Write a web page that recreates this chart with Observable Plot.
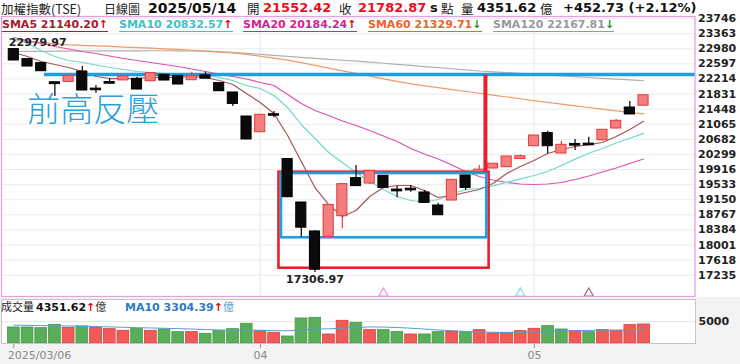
<!DOCTYPE html>
<html><head><meta charset="utf-8">
<script src="https://cdn.jsdelivr.net/npm/d3@7"></script>
<script src="https://cdn.jsdelivr.net/npm/@observablehq/plot@0.6"></script>
<style>
body{margin:0;background:#fff;}
#wrap{position:relative;width:740px;height:364px;overflow:hidden;font-family:"DejaVu Sans",sans-serif;background:#fff;}
.abs{position:absolute;white-space:nowrap;}
</style></head>
<body><div id="wrap"></div>
<script>
// ---------------- data ----------------
const dates = ["2025-03-06","2025-03-07","2025-03-10","2025-03-11","2025-03-12","2025-03-13","2025-03-14","2025-03-17","2025-03-18","2025-03-19","2025-03-20","2025-03-21","2025-03-24","2025-03-25","2025-03-26","2025-03-27","2025-03-28","2025-03-31","2025-04-01","2025-04-02","2025-04-07","2025-04-08","2025-04-09","2025-04-10","2025-04-11","2025-04-14","2025-04-15","2025-04-16","2025-04-17","2025-04-18","2025-04-21","2025-04-22","2025-04-23","2025-04-24","2025-04-25","2025-04-28","2025-04-29","2025-04-30","2025-05-02","2025-05-05","2025-05-06","2025-05-07","2025-05-08","2025-05-09","2025-05-12","2025-05-13","2025-05-14"];
const open  = [22952,22699,22597,22112,22156,22384,21950,22118,22195,22199,22174,22301,22275,22199,22288,22090,21852,21243,20880,21300,20163,19062,18327,18225,18750,19681,19579,19739,19390,19412,19316,18986,19148,19747,19870,19960,19993,20200,20525,20822,20340,20548,20555,20677,20974,21471,21552.42];
const high  = [22979.97,22732,22638,22120,22290,22529,22047,22217,22280,22257,22360,22320,22290,22384,22384,22110,21870,21260,21311,21388,20180,19080,18370,19020,19545,20018,19880,19755,19485,19511,19384,19062,19650,19760,20018,20055,20240,20287,20775,20888,20627,20677,20736,20920,21185,21641,21790];
const low   = [22680,22529,22402,21768,22140,21925,21852,22090,22185,21938,22160,22180,22075,22190,22225,21895,21514,20670,20860,21230,19200,18200,17306.97,18210,18413,19500,19536,19455,19199,19340,19075,18760,19135,19384,19860,19950,19980,20190,20510,20315,20325,20398,20540,20634,20960,21310,21545];
const close = [22699,22546,22427,22100,22275,21938,21945,22110,22264,21963,22344,22191,22090,22264,22237,21920,21598,20696,21286,21298,19232,18459,17392,19001,19528,19513,19866,19468,19380,19405,19088,18775,19637,19468,19895,20045,20229,20235,20761,20525,20525,20540,20548,20906,21134,21330,21782.87];

const sma5   = [22884,22782,22656,22579,22503,22402,22275,22224,22224,22224,22250,22250,22250,22275,22250,22174,22072,21844,21616,21337,20779,20120,19460,19029,18725,18877,19232,19460,19511,19511,19384,19207,19257,19333,19409,19562,19815,19993,20145,20322,20424,20500,20550,20601,20753,20931,21140.20];
const sma10  = [23239,23112,22934,22782,22681,22630,22567,22503,22453,22402,22377,22351,22338,22326,22300,22250,22174,22047,21971,21793,21489,21058,20703,20348,20094,19841,19612,19409,19232,19131,19093,19156,19295,19409,19435,19500,19590,19680,19764,19866,20020,20180,20330,20449,20590,20710,20832.57];
const sma20  = [23264,23188,23112,23036,22973,22909,22858,22795,22732,22681,22630,22579,22529,22465,22402,22338,22275,22212,22123,22047,21819,21590,21413,21286,21146,21032,20906,20766,20627,20449,20309,20183,20030,19866,19739,19650,19587,19549,19536,19549,19587,19663,19752,19853,19954,20069,20184.24];
const sma60  = [23188,23160,23132,23105,23078,23066,23052,23037,23022,23008,22993,22978,22963,22941,22918,22895,22872,22837,22789,22741,22692,22625,22559,22488,22417,22353,22285,22216,22152,22088,22038,21993,21944,21895,21850,21803,21755,21711,21664,21617,21575,21532,21489,21449,21406,21364,21329.71];
const sma120 = [22910,22912,22915,22918,22920,22922,22924,22925,22926,22927,22928,22928,22927,22925,22920,22905,22885,22860,22835,22810,22785,22760,22736,22712,22688,22664,22640,22612,22584,22556,22528,22500,22472,22444,22415,22395,22374,22353,22332,22311,22290,22270,22250,22230,22210,22189,22167.81];

const volume = [3666,3666,3515,4277,3591,3895,3591,3286,2904,3286,2904,3209,2600,2600,2218,2829,3286,4505,2904,2447,1608,5724,5878,2065,5191,4734,3058,3058,2600,2065,2065,2600,2751,2600,3058,2294,2447,2829,3362,3972,3209,2829,2600,3058,2904,4201,4351.62];
const volumeDir = ["d","d","d","d","u","d","u","u","u","d","u","d","d","u","d","d","d","d","u","u","d","d","d","u","u","d","u","d","d","u","d","d","u","d","u","u","u","u","u","d","d","u","d","u","u","u","u"];
const volMA10 = [4200,4150,4100,4050,4000,3950,3880,3800,3700,3620,3550,3480,3400,3300,3200,3100,3050,3050,3000,2950,2900,3100,3300,3350,3500,3650,3800,3750,3650,3500,3300,3100,2900,2750,2650,2550,2500,2550,2650,2800,2900,2950,3000,3050,3050,3150,3304.39];

const yTicks = [23746,23363,22980,22597,22214,21831,21448,21065,20682,20299,19916,19533,19150,18767,18384,18001,17618,17235];
const volTicks = [5000];
const xTickIdx = [0, 18, 38];
const xTickText = ["2025/03/06", "04", "05"];

const quote = {name:"加權指數(TSE)", kind:"日線圖", date:"2025/05/14", open:"21552.42", close:"21782.87", unit:"點", vol:"4351.62", volUnit:"億", change:"+452.73 (+2.12%)"};
const maLegend = [
  {name:"SMA5", value:"21140.20", dir:"up"},
  {name:"SMA10", value:"20832.57", dir:"up"},
  {name:"SMA20", value:"20184.24", dir:"up"},
  {name:"SMA60", value:"21329.71", dir:"down"},
  {name:"SMA120", value:"22167.81", dir:"down"}
];
const volLegend = {label:"成交量", value:"4351.62", maName:"MA10", maValue:"3304.39", unit:"億"};

// annotations (in data units: bar index, index points)
const peakLabel = {i:0, v:22979.97};
const troughLabel = {i:22, v:17306.97};
const resistLine = [{x1:2.2, x2:49.76, y:22326}];
const breakLine = [{x:34.45, y1:22326, y2:19848}];
const outerBox = [{x1:19.37, x2:34.72, y1:17413, y2:19848}];
const innerBox = [{x1:19.55, x2:34.55, y1:18185, y2:19815}];
const noteText = [{x:5.8, y:21420, t:"前高反壓"}];
const crossMarks = [{i:27, s:"SMA20"}, {i:37, s:"SMA10"}, {i:42, s:"SMA5"}];

// ---------------- styles ----------------
const lineColor = {SMA5:"#a45656", SMA10:"#6fd9cd", SMA20:"#e04fb0", SMA60:"#f09a66", SMA120:"#b0b0b0"};
const legendColor = {SMA5:"#a3202c", SMA10:"#3cc3c6", SMA20:"#d4238f", SMA60:"#e7652c", SMA120:"#999999"};
const markColor = {SMA5:"#a07070", SMA10:"#86dcd8", SMA20:"#e59ad6"};

const idx = d3.range(dates.length);
const candles = idx.map(i => ({i, o:open[i], h:high[i], l:low[i], c:close[i], up: close[i] > open[i]}));
const upC = candles.filter(d => d.up), dnC = candles.filter(d => !d.up);
const xDomain = [-0.9, 49.76];
const maSeries = [["SMA120", sma120], ["SMA60", sma60], ["SMA20", sma20], ["SMA10", sma10], ["SMA5", sma5]];

const wrap = document.getElementById("wrap");

// ---------------- main price panel ----------------
const main = Plot.plot({
  width: 740, height: 297,
  marginLeft: 1, marginRight: 45.5, marginTop: 16, marginBottom: 1,
  x: {domain: xDomain, axis: null},
  y: {domain: [16696, 23797], axis: null},
  style: {fontFamily: "DejaVu Sans", background: "transparent", overflow: "visible"},
  marks: [
    Plot.ruleY(yTicks, {stroke: "#ececec"}),
    Plot.ruleX(xTickIdx.slice(1), {stroke: "#e6e6e6"}),
    ...maSeries.map(([name, arr]) => Plot.line(idx, {x: i => i, y: i => arr[i], stroke: lineColor[name], strokeWidth: 1.2})),
    Plot.link(resistLine, {x1: "x1", x2: "x2", y1: "y", y2: "y", stroke: "#1f9fe0", strokeWidth: 3.5}),
    Plot.rect(outerBox, {x1: "x1", x2: "x2", y1: "y1", y2: "y2", fill: "none", stroke: "#e8212b", strokeWidth: 2.6}),
    Plot.rect(innerBox, {x1: "x1", x2: "x2", y1: "y1", y2: "y2", fill: "none", stroke: "#1f9fe0", strokeWidth: 2.6}),
    Plot.link(breakLine, {x1: "x", x2: "x", y1: "y1", y2: "y2", stroke: "#e8212b", strokeWidth: 4}),
    Plot.ruleX(dnC, {x: "i", y1: "l", y2: "h", stroke: "#000", strokeWidth: 1.2}),
    Plot.ruleX(upC, {x: "i", y1: "l", y2: "h", stroke: "#e23b3b", strokeWidth: 1.2}),
    Plot.rect(dnC, {x1: d => d.i - 0.37, x2: d => d.i + 0.37, y1: "o", y2: "c", fill: "#0a0a0a", stroke: "#000", strokeWidth: 1, insetTop: -0.7, insetBottom: -0.7}),
    Plot.rect(upC, {x1: d => d.i - 0.37, x2: d => d.i + 0.37, y1: "o", y2: "c", fill: "#f47d7d", stroke: "#e23b3b", strokeWidth: 1, insetTop: -0.7, insetBottom: -0.7}),
    Plot.text(noteText, {x: "x", y: "y", text: "t", fontSize: 33, fill: "#2b9fdc", fontFamily: "Noto Sans CJK TC", fontWeight: 300}),
    Plot.text([peakLabel], {x: "i", y: "v", text: d => d.v.toFixed(2), textAnchor: "start", dx: -5, dy: -6, fontWeight: "bold", fontSize: 11, fill: "#222"}),
    Plot.text([troughLabel], {x: "i", y: "v", text: d => d.v.toFixed(2), textAnchor: "middle", dy: 7, fontWeight: "bold", fontSize: 11, fill: "#222"}),
    Plot.dot(crossMarks, {x: "i", frameAnchor: "bottom", dy: -3, symbol: "triangle", r: 3.5, fill: "none", stroke: d => markColor[d.s], strokeWidth: 1.2}),
    Plot.text(yTicks, {y: d => d, frameAnchor: "right", dx: 3, textAnchor: "start", text: d => String(d), fontWeight: "bold", fontSize: 11, fill: "#222"}),
    Plot.frame({stroke: "#e3a0e3", strokeWidth: 1.3})
  ]
});
main.style.position = "absolute"; main.style.left = "0px"; main.style.top = "0px";
wrap.appendChild(main);

// ---------------- lower background ----------------
const lowerBg = document.createElement("div");
lowerBg.className = "abs";
Object.assign(lowerBg.style, {left: "0px", top: "297px", width: "740px", height: "67px", background: "#f3f3f3"});
wrap.appendChild(lowerBg);

// ---------------- volume panel ----------------
const volData = idx.map(i => ({i, v: volume[i], up: volumeDir[i] === "u"}));
const xLabels = xTickIdx.map((x, k) => ({x, t: xTickText[k], first: k === 0}));
const vol = Plot.plot({
  width: 740, height: 67,
  marginLeft: 1, marginRight: 45, marginTop: 2, marginBottom: 21,
  x: {domain: xDomain, axis: null},
  y: {domain: [0, 10063], axis: null},
  style: {fontFamily: "DejaVu Sans", background: "transparent", overflow: "visible"},
  marks: [
    Plot.frame({fill: "#fff", stroke: "none"}),
    Plot.ruleY(volTicks, {stroke: "#e4e4e4"}),
    Plot.rectY(volData.filter(d => !d.up), {x1: d => d.i - 0.43, x2: d => d.i + 0.43, y: "v", fill: "#5aae5a", stroke: "#469a46", strokeWidth: 0.8}),
    Plot.rectY(volData.filter(d => d.up), {x1: d => d.i - 0.43, x2: d => d.i + 0.43, y: "v", fill: "#f25a5a", stroke: "#de3c3c", strokeWidth: 0.8}),
    Plot.line(idx, {x: i => i, y: i => volMA10[i], stroke: "#5b9bd5", strokeWidth: 1}),
    Plot.text(volTicks, {y: d => d, frameAnchor: "right", dx: 3, textAnchor: "start", text: d => String(d), fontWeight: "bold", fontSize: 11, fill: "#222"}),
    Plot.axisX(xTickIdx, {anchor: "bottom", tickSize: 5, tickFormat: () => "", label: null, stroke: "#999"}),
    Plot.text(xLabels.filter(d => d.first), {x: "x", text: "t", frameAnchor: "bottom", dy: 15, dx: -6, textAnchor: "start", fontSize: 11, fill: "#888"}),
    Plot.text(xLabels.filter(d => !d.first), {x: "x", text: "t", frameAnchor: "bottom", dy: 15, textAnchor: "middle", fontSize: 11, fill: "#888"}),
    Plot.frame({stroke: "#c4c4c4"})
  ]
});
vol.style.position = "absolute"; vol.style.left = "0px"; vol.style.top = "297px";
wrap.appendChild(vol);

// ---------------- text overlays ----------------
function put(html, left, top, css) {
  const s = document.createElement("div");
  s.className = "abs";
  s.innerHTML = html;
  s.style.left = left + "px"; s.style.top = top + "px";
  Object.assign(s.style, css || {});
  wrap.appendChild(s);
  return s;
}
const cjk = (sz) => ({fontFamily: '"Noto Sans CJK TC", sans-serif', fontSize: sz + "px", lineHeight: "18px", color: "#222"});
const num = (sz, col) => ({fontFamily: '"DejaVu Sans", sans-serif', fontWeight: "bold", fontSize: sz + "px", lineHeight: "16px", color: col});
put(quote.name, 1, 0, cjk(12.5));
put(quote.kind, 104, 0, cjk(12));
put(quote.date, 148, 0, num(14, "#111"));
put("開", 247, 0, cjk(12.5));
put(quote.open, 263, 0, num(13, "#e8101a"));
put("收", 339, 0, cjk(12.5));
put(quote.close, 358, 0, num(13, "#e8101a"));
put("s", 430, 0, num(13, "#111"));
put(quote.unit, 441, 0, cjk(12.5));
put("量", 461, 0, cjk(12.5));
put(quote.vol, 477, 0, num(13, "#111"));
put(quote.volUnit, 540, 0, cjk(12.5));
put(quote.change, 563, 0, num(13, "#111"));

// MA legend row
const legendLeft = [2, 119, 243, 368, 493];
maLegend.forEach((m, k) => {
  const c = legendColor[m.name];
  const arrow = m.dir === "up" ? '<span style="color:#e00000">↑</span>' : '<span style="color:#1f8f1f">↓</span>';
  put(`<span style="color:${c};border-bottom:1px solid ${c}">${m.name} ${m.value}${arrow}</span>`, legendLeft[k], 18,
      {fontFamily: '"DejaVu Sans", sans-serif', fontWeight: "bold", fontSize: "11px", lineHeight: "13px"});
});

// volume legend row
put(volLegend.label, 1, 299, {fontFamily: '"Noto Sans CJK TC", sans-serif', fontSize: "11px", lineHeight: "14px", color: "#222"});
put(`${volLegend.value}<span style="color:#e00000">↑</span><span style="font-family:'Noto Sans CJK TC';font-weight:normal;color:#333">${volLegend.unit}</span>`, 36, 299,
    {fontFamily: '"DejaVu Sans", sans-serif', fontWeight: "bold", fontSize: "11px", lineHeight: "14px", color: "#111"});
put(`${volLegend.maName} ${volLegend.maValue}<span style="color:#e00000">↑</span><span style="font-family:'Noto Sans CJK TC';font-weight:normal;color:#5b9bd5">${volLegend.unit}</span>`, 125, 299,
    {fontFamily: '"DejaVu Sans", sans-serif', fontWeight: "bold", fontSize: "11px", lineHeight: "14px", color: "#2c7cc4"});
</script>
</body></html>
